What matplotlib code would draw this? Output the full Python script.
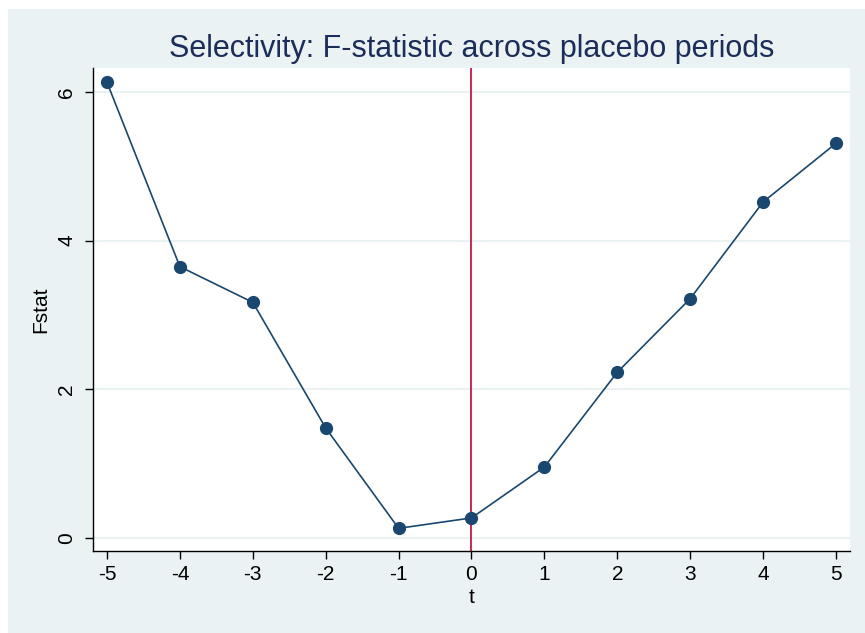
import matplotlib
matplotlib.use("Agg")
import matplotlib.pyplot as plt
from matplotlib.patches import Rectangle

t = [-5, -4, -3, -2, -1, 0, 1, 2, 3, 4, 5]
fstat = [6.13, 3.65, 3.17, 1.48, 0.13, 0.27, 0.955, 2.23, 3.22, 4.52, 5.31]
xticks = [-5, -4, -3, -2, -1, 0, 1, 2, 3, 4, 5]
yticks = [0, 2, 4, 6]

plt.rcParams['font.family'] = ['Liberation Sans', 'DejaVu Sans']

W, H = 865, 633
fig = plt.figure(figsize=(W / 100, H / 100), dpi=100, facecolor='white')
fig.patches.append(Rectangle((8 / W, 0), 1 - 8 / W, 1 - 9 / H, transform=fig.transFigure,
                             facecolor='#EAF2F3', edgecolor='none', zorder=-10))

ax = fig.add_axes([93 / W, 1 - 551 / H, (850 - 93) / W, (551 - 68) / H])
ax.set_facecolor('white')
ax.set_xlim(-5.192, 5.192)
ax.set_ylim(-0.175, 6.323)

for y in yticks:
    ax.axhline(y, color='#EAF2F3', lw=1.5, zorder=0)

ax.axvline(0, color='#C10534', lw=1.2, zorder=1)
ax.plot(t, fstat, color='#1A476F', lw=1.2, marker='o', ms=8.5, zorder=3)

ax.set_xticks(xticks)
ax.set_xticklabels([str(v) for v in xticks])
ax.set_yticks(yticks)
ax.set_yticklabels([str(v) for v in yticks], rotation=90, va='center')

for s in ['top', 'right']:
    ax.spines[s].set_visible(False)
for s in ['left', 'bottom']:
    ax.spines[s].set_color('black')
    ax.spines[s].set_linewidth(1.0)

ax.tick_params(axis='both', direction='out', length=6, width=1, labelsize=15, colors='black', pad=4)
ax.tick_params(axis='y', pad=6)

ax.set_xlabel('t', fontsize=15, labelpad=3)
ax.set_ylabel('Fstat', fontsize=15, labelpad=5)
ax.set_title('Selectivity: F-statistic across placebo periods', fontsize=22, color='#1C2D5A', pad=8)

fig.savefig('out.png', dpi=100, facecolor=fig.get_facecolor())
